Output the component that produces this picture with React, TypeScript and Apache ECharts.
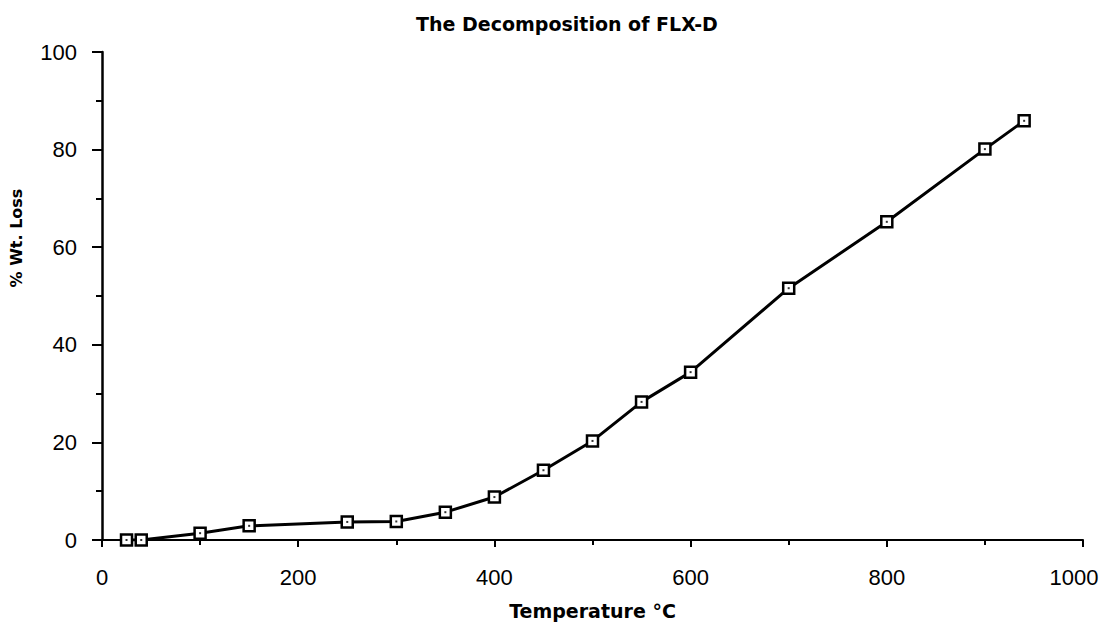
import React, { useEffect, useRef } from "react";
import * as echarts from "echarts";

const temperature = [25, 40, 100, 150, 250, 300, 350, 400, 450, 500, 550, 600, 700, 800, 900, 940];
const wtLoss = [0, 0, 1.4, 2.9, 3.7, 3.8, 5.7, 8.8, 14.3, 20.3, 28.3, 34.4, 51.6, 65.2, 80.1, 85.9];

const titleText = "The Decomposition of FLX-D";
const xName = "Temperature °C";
const yName = "% Wt. Loss";

export default function App() {
  const ref = useRef<HTMLDivElement>(null);
  useEffect(() => {
    const chart = echarts.init(ref.current!, null, { renderer: "svg" });
    const pts = temperature.map((t, i) => [t, wtLoss[i]]);
    const labelFont = {
      fontFamily: "'Liberation Sans', sans-serif",
      fontSize: 22,
      color: "#000",
    };
    chart.setOption({
      animation: false,
      backgroundColor: "#fff",
      title: {
        text: titleText,
        left: 562,
        top: 9,
        textAlign: "center",
        textStyle: { fontFamily: "'DejaVu Sans', sans-serif", fontSize: 19, fontWeight: "bold", color: "#000" },
      },
      grid: { left: 102, right: 20, top: 52, bottom: 87, outerBoundsMode: "none", containLabel: false },
      xAxis: {
        type: "value",
        min: 0,
        max: 1000,
        interval: 200,
        name: xName,
        nameLocation: "middle",
        nameGap: 61,
        nameTextStyle: { fontFamily: "'DejaVu Sans', sans-serif", fontSize: 19, fontWeight: "bold", color: "#000" },
        axisLine: { onZero: false, lineStyle: { color: "#000", width: 2 } },
        axisTick: { length: 7, lineStyle: { color: "#000", width: 2 } },
        minorTick: { show: true, splitNumber: 2, length: 5, lineStyle: { color: "#000", width: 2 } },
        axisLabel: {
          ...labelFont,
          margin: 26,
          formatter: (v: number) => (v === 1000 ? "{r|" + String(v) + "}" : String(v)),
          rich: { r: { ...labelFont, padding: [0, 18, 0, 0] } },
        },
        splitLine: { show: false },
      },
      yAxis: {
        type: "value",
        min: 0,
        max: 100,
        interval: 20,
        name: yName,
        nameLocation: "middle",
        nameGap: 78,
        nameRotate: 90,
        nameTextStyle: { fontFamily: "'DejaVu Sans', sans-serif", fontSize: 16, fontWeight: "bold", color: "#000", padding: [0, 0, 0, 116] },
        axisLine: { show: true, lineStyle: { color: "#000", width: 2.5 } },
        axisTick: { length: 10, lineStyle: { color: "#000", width: 2 } },
        minorTick: { show: true, splitNumber: 2, length: 6, lineStyle: { color: "#000", width: 2 } },
        axisLabel: { ...labelFont, margin: 25, formatter: (v: number) => String(v) },
        splitLine: { show: false },
      },
      series: [
        {
          type: "line",
          data: pts,
          symbol: "rect",
          symbolSize: 11,
          showAllSymbol: true,
          lineStyle: { color: "#000", width: 3 },
          itemStyle: { color: "#fff", borderColor: "#000", borderWidth: 2.5 },
          z: 2,
        },
        {
          type: "scatter",
          data: pts,
          symbol: "rect",
          symbolSize: 2,
          itemStyle: { color: "#000" },
          z: 3,
        },
      ],
    });
    return () => chart.dispose();
  }, []);
  return <div ref={ref} style={{ width: 1103, height: 627, position: "absolute", left: 0, top: 0 }} />;
}
